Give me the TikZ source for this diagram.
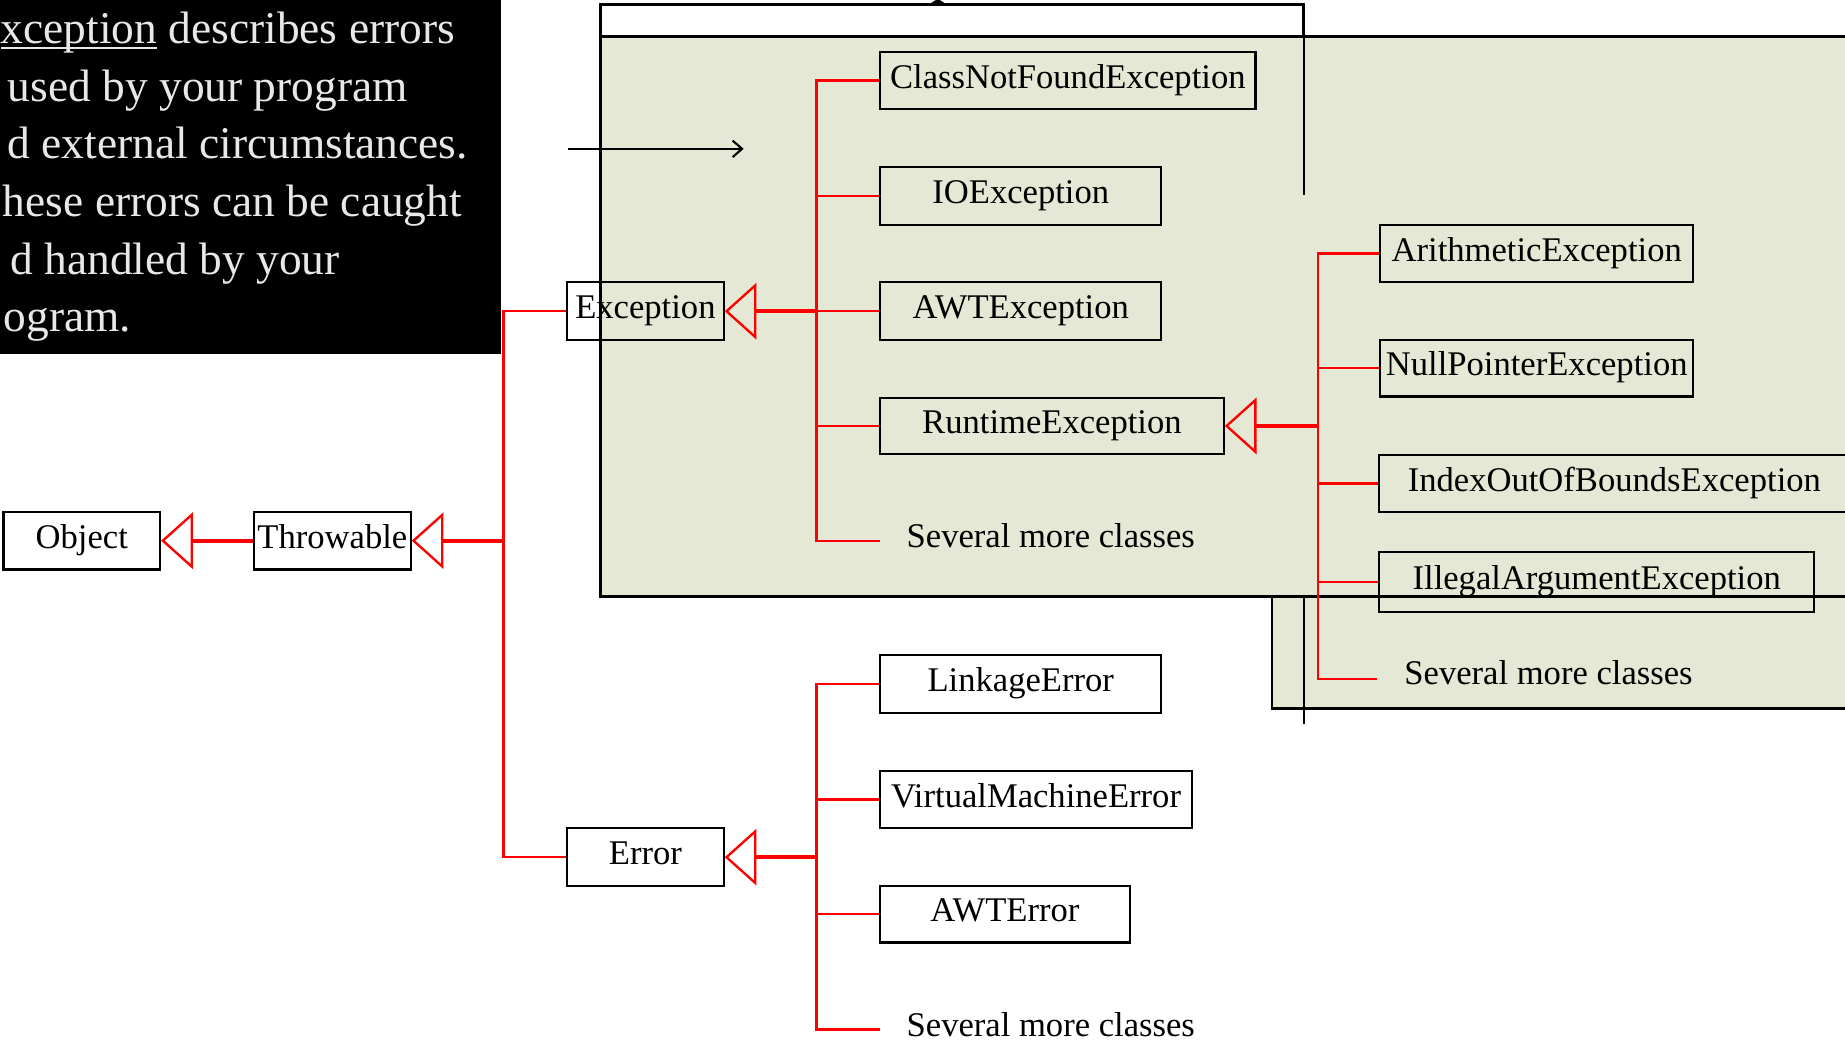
\documentclass[tikz,border=0pt]{standalone}
\usepackage{fontspec}
\setmainfont{Liberation Serif}
\usetikzlibrary{arrows.meta}
\definecolor{pgreen}{RGB}{228,232,212}
\definecolor{ptext}{RGB}{232,232,232}
\tikzset{
  box/.style={draw=black, line width=0.9pt, minimum height=24.5pt, inner sep=0pt,
    font=\fontsize{14.7}{16}\selectfont, text height=0.8em, text depth=0.15em},
  lbl/.style={inner sep=0pt, font=\fontsize{14.7}{16}\selectfont, text height=0.8em, text depth=0.15em},
  branch/.style={draw=red, line width=1pt},
  inh/.style={draw=red, line width=1.6pt, -{Triangle[open, length=13.5pt, width=24pt, line width=1pt]}},
  para/.style={anchor=base east, inner sep=0pt, text=ptext, font=\fontsize{19.3}{23}\selectfont},
  frame/.style={draw=black, line width=1.2pt}
}
\begin{document}
\begin{tikzpicture}[x=0.5pt,y=-0.5pt]
\useasboundingbox (0,0) rectangle (1568,888);
\clip (0,0) rectangle (1568,888);

% black text panel
\fill[black] (0,0) rectangle (426,301);
\node[para] (l1) at (387,37) {{\setbox0\hbox{xception}\rlap{\rule[-2.4pt]{\wd0}{0.85pt}}\box0} describes errors};
\node[para] (l2) at (347,86) {used by your program};
\node[para] (l3) at (398,135) {d external circumstances.};
\node[para] (l4) at (393,184) {hese errors can be caught};
\node[para] (l5) at (289,233) {d handled by your};
\node[para] (l6) at (112,282) {ogram.};

% background frames
\draw[frame, fill=white] (510,4) rectangle (1108,31);
\fill[black] (789,4) -- (797,-1) -- (805,4) -- cycle;
\draw[frame, fill=pgreen] (510,31) rectangle (1620,507);
\draw[frame, fill=pgreen] (1081,507) rectangle (1620,602);
\draw[frame] (510,507) -- (1620,507);
\draw[black, line width=1pt] (1108,4) -- (1108,166);
\draw[black, line width=1pt] (1108,507) -- (1108,615);
\coordinate (a1) at (483,126.5);
\coordinate (a2) at (632,126.5);
\draw[black, line width=0.9pt, -{Straight Barb[length=4pt, width=7pt]}] (a1) -- (a2);

% class boxes
\node[box, minimum width=66.5pt] (object) at (69.5,459.5) {Object};
\node[box, minimum width=66.5pt] (throwable) at (282.5,459.5) {Throwable};
\node[box, minimum width=66.5pt] (exception) at (548.5,264.5) {Exception};
\node[box, minimum width=66.5pt] (error) at (548.5,728.5) {Error};
\node[box, minimum width=159.5pt] (cnf) at (907.5,68.5) {ClassNotFoundException};
\node[box, minimum width=119.5pt] (io) at (867.5,166.5) {IOException};
\node[box, minimum width=119.5pt] (awte) at (867.5,264.5) {AWTException};
\node[box, minimum width=146pt, minimum height=24pt] (rte) at (894,362) {RuntimeException};
\node[box, minimum width=133pt] (arith) at (1306,215.5) {ArithmeticException};
\node[box, minimum width=133pt, minimum height=24pt] (npe) at (1306,313) {NullPointerException};
\node[box, minimum width=200pt, minimum height=24pt] (ioobe) at (1372,411) {IndexOutOfBoundsException};
\node[box, minimum width=185pt, minimum height=25.5pt] (iae) at (1357,494.5) {IllegalArgumentException};
\node[box, minimum width=119.5pt] (linkage) at (867.5,581.5) {LinkageError};
\node[box, minimum width=132.5pt] (vme) at (880.5,679.5) {VirtualMachineError};
\node[box, minimum width=106pt, minimum height=24pt] (awterr) at (854,777) {AWTError};

\node[lbl] (s1) at (893,459) {Several more classes};
\node[lbl] (s2) at (1316,575.5) {Several more classes};
\node[lbl] (s3) at (893,874.5) {Several more classes};

% junctions and free ends
\coordinate (j1) at (428,459.5);
\coordinate (j2) at (694,264.5);
\coordinate (j3) at (1120,362);
\coordinate (j4) at (694,728.5);
\coordinate (m1) at (748,460);
\coordinate (m2) at (1170,577);
\coordinate (m3) at (748,875);

% connectors
\draw[inh] (throwable.west) -- (object.east);
\draw[inh] (j1) -- (throwable.east);
\draw[branch] (exception.west) -| (j1) |- (error.west);

\draw[inh] (j2) -- (exception.east);
\draw[branch] (cnf.west) -| (j2) |- (m1);
\draw[branch] (j2) |- (io.west);
\draw[branch] (j2) -- (awte.west);
\draw[branch] (j2) |- (rte.west);

\draw[inh] (j3) -- (rte.east);
\draw[branch] (arith.west) -| (j3) |- (m2);
\draw[branch] (j3) |- (npe.west);
\draw[branch] (j3) |- (ioobe.west);
\draw[branch] (j3) |- (iae.west);

\draw[inh] (j4) -- (error.east);
\draw[branch] (linkage.west) -| (j4) |- (m3);
\draw[branch] (j4) |- (vme.west);
\draw[branch] (j4) |- (awterr.west);
\end{tikzpicture}
\end{document}
